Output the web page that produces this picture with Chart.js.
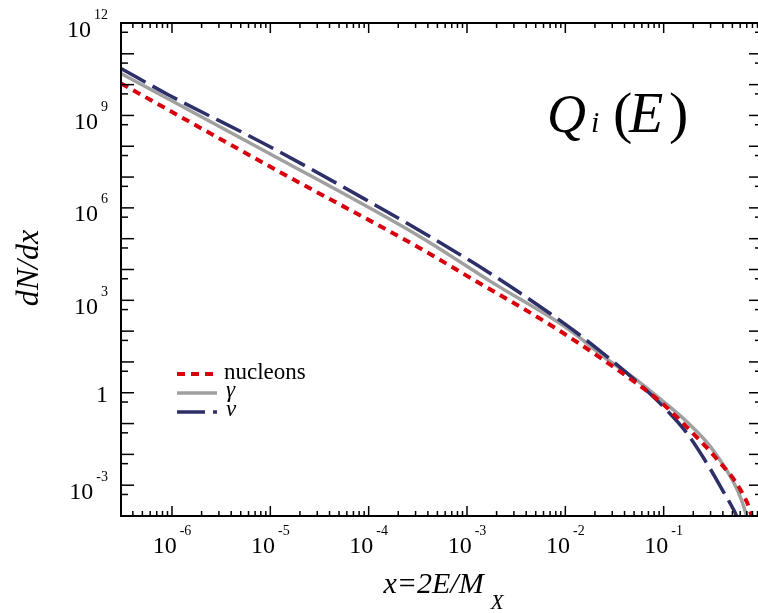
<!DOCTYPE html>
<html>
<head>
<meta charset="utf-8">
<script src="https://cdn.jsdelivr.net/npm/chart.js@4.4.1/dist/chart.umd.min.js"></script>
<style>
  html, body { margin: 0; padding: 0; background: #fff; overflow: hidden; }
  #wrap { width: 770px; height: 613px; }
</style>
</head>
<body>
<div id="wrap"><canvas id="c" width="770" height="613"></canvas></div>
<script>
// Injection spectra dN/dx versus x = 2E/M_X
const xNucleons = [3.03e-7, 1.26e-5, 3.33e-4, 1.0e-3, 7.52e-3, 0.0286, 0.0920, 0.137, 0.350, 0.600, 0.759, 0.832];
const yNucleons = [1.09e10, 1.44e7, 4.89e4, 6.21e3, 139, 8.18, 0.520, 0.158, 6.90e-3, 7.36e-4, 1.43e-4, 3.98e-5];

const xGamma = [3.03e-7, 1.0e-5, 3.33e-4, 1.85e-3, 0.01035, 0.0268, 0.0513, 0.0920, 0.173, 0.297, 0.558, 0.690, 0.759];
const yGamma = [2.29e10, 5.62e7, 1.16e5, 3.61e3, 126, 12.0, 2.82, 0.631, 0.112, 0.0182, 7.36e-4, 1.14e-4, 3.16e-5];

const xNu = [3.03e-7, 9.16e-7, 9.18e-6, 8.77e-5, 4.05e-4, 1.65e-3, 7.00e-3, 0.0138, 0.0268, 0.0513, 0.0957, 0.166, 0.275, 0.429, 0.498, 0.546, 0.589];
const yNu = [3.34e10, 4.71e9, 1.10e8, 2.07e6, 1.25e5, 8.18e3, 374, 77.6, 14.5, 2.54, 0.398, 0.0569, 5.12e-3, 4.47e-4, 1.93e-4, 1.07e-4, 5.0e-5];

const seriesNames = ['nucleons', 'γ', 'ν'];
const xLabelValues = [1e-6, 1e-5, 1e-4, 1e-3, 1e-2, 1e-1, 1];
const yLabelValues = [1e12, 1e9, 1e6, 1e3, 1, 1e-3];

const SERIF = '"Liberation Serif", "Times New Roman", serif';

function toPoints(xs, ys) {
  return xs.map((v, i) => ({ x: v, y: ys[i] }));
}

// "10" with a raised exponent, or a plain "1" for 10^0
function drawPowerLabel(ctx, v, px, baselineOffset, align, py) {
  const exp = Math.round(Math.log10(v));
  const base = exp === 0 ? '1' : '10';
  const sup = exp === 0 ? '' : String(exp);
  ctx.font = '24px ' + SERIF;
  const wb = ctx.measureText(base).width;
  ctx.font = '14px ' + SERIF;
  const ws = sup ? ctx.measureText(sup).width + 3 : 0;
  const total = wb + ws;
  const left = align === 'center' ? px - total / 2 : px - total;
  const baseline = py + (sup ? baselineOffset : baselineOffset - 4);
  ctx.textAlign = 'left';
  ctx.textBaseline = 'alphabetic';
  ctx.font = '24px ' + SERIF;
  ctx.fillText(base, left, baseline);
  if (sup) {
    ctx.font = '14px ' + SERIF;
    ctx.fillText(sup, left + wb + 3, baseline - 18);
  }
}

const framePlugin = {
  id: 'frameAndText',
  afterDatasetsDraw(chart) {
    const { ctx, chartArea: a } = chart;
    const xs = chart.scales.x, ys = chart.scales.y;
    ctx.save();
    ctx.strokeStyle = '#000';
    ctx.fillStyle = '#000';
    ctx.lineWidth = 1.5;
    const seg = (x1, y1, x2, y2) => { ctx.beginPath(); ctx.moveTo(x1, y1); ctx.lineTo(x2, y2); ctx.stroke(); };

    // x ticks, bottom and top, pointing inward
    for (let e = -7; e <= 0; e++) {
      for (let m = 1; m <= 9; m++) {
        const v = m * Math.pow(10, e);
        if (v < xs.min * 0.999 || v > xs.max * 1.001) continue;
        const px = xs.getPixelForValue(v);
        const len = m === 1 ? 10 : 5;
        seg(px, a.bottom, px, a.bottom - len);
        seg(px, a.top, px, a.top + len);
      }
    }
    // y ticks, left and right
    for (let e = -4; e <= 12; e++) {
      for (const m of [1, 5]) {
        const v = m * Math.pow(10, e);
        if (v > ys.max * 1.001) continue;
        const py = ys.getPixelForValue(v);
        const len = m === 1 ? 13 : 7;
        seg(a.left, py, a.left + len, py);
        seg(a.right, py, a.right - len, py);
      }
    }
    ctx.lineWidth = 2;
    ctx.strokeRect(a.left, a.top, a.right - a.left, a.bottom - a.top);

    // tick labels
    xLabelValues.forEach(v => drawPowerLabel(ctx, v, xs.getPixelForValue(v), 37, 'center', a.bottom));
    yLabelValues.forEach(v => drawPowerLabel(ctx, v, a.left - 13, 13.5, 'right', ys.getPixelForValue(v)));

    // axis titles
    ctx.font = 'italic 32px ' + SERIF;
    ctx.textBaseline = 'alphabetic';
    ctx.save();
    ctx.translate(38, 268);
    ctx.rotate(-Math.PI / 2);
    ctx.textAlign = 'center';
    ctx.fillText('dN/dx', 0, 0);
    ctx.restore();

    ctx.textAlign = 'left';
    ctx.font = 'italic 30px ' + SERIF;
    const main = 'x=2E/M';
    const wm = ctx.measureText(main).width;
    ctx.font = 'italic 21px ' + SERIF;
    const wsub = ctx.measureText('X').width;
    const xStart = (a.left + 762) / 2 - (wm + 7 + wsub) / 2 + 2;
    ctx.font = 'italic 30px ' + SERIF;
    ctx.fillText(main, xStart, 593);
    ctx.font = 'italic 21px ' + SERIF;
    ctx.fillText('X', xStart + wm + 7, 609);

    // panel label Q_i(E)
    ctx.font = 'italic 54px ' + SERIF;
    ctx.fillText('Q', 547, 132);
    ctx.font = 'italic 30px ' + SERIF;
    ctx.fillText('i', 591, 132);
    ctx.font = '58px ' + SERIF;
    ctx.fillText('(', 613, 132);
    ctx.font = 'italic 56px ' + SERIF;
    ctx.fillText('E', 629, 132);
    ctx.font = '58px ' + SERIF;
    ctx.fillText(')', 669, 132);

    // legend
    const rows = [374, 393, 412];
    chart.data.datasets.forEach((ds, i) => {
      const y = rows[i];
      ctx.save();
      ctx.strokeStyle = ds.borderColor;
      ctx.lineWidth = ds.borderWidth;
      ctx.setLineDash(ds.borderDash || []);
      seg(177, y, 217, y);
      ctx.restore();
      ctx.fillStyle = '#000';
      ctx.textAlign = 'left';
      if (i === 0) {
        ctx.font = '23px ' + SERIF;
        ctx.fillText(ds.label, 224, y + 5);
      } else {
        ctx.font = 'italic 23px ' + SERIF;
        ctx.fillText(ds.label, 226, y + 4);
      }
    });
    ctx.restore();
  }
};

new Chart(document.getElementById('c'), {
  type: 'line',
  data: {
    datasets: [
      { label: seriesNames[0], data: toPoints(xNucleons, yNucleons), borderColor: '#d8000c', borderWidth: 4, borderDash: [8, 6], order: 0 },
      { label: seriesNames[1], data: toPoints(xGamma, yGamma), borderColor: '#a0a0a0', borderWidth: 3.5, borderDash: [], order: 2 },
      { label: seriesNames[2], data: toPoints(xNu, yNu), borderColor: '#2d2f68', borderWidth: 3.5, borderDash: [28, 8], order: 1 }
    ]
  },
  options: {
    responsive: false,
    animation: false,
    layout: { padding: { left: 121, top: 23, right: 8, bottom: 97 } },
    elements: {
      point: { radius: 0, hoverRadius: 0 },
      line: { cubicInterpolationMode: 'monotone', fill: false }
    },
    scales: {
      x: { type: 'logarithmic', min: 3.03e-7, max: 1, display: false },
      y: { type: 'logarithmic', min: 1e-4, max: 1e12, display: false }
    },
    plugins: { legend: { display: false }, tooltip: { enabled: false } },
    events: []
  },
  plugins: [framePlugin]
});
</script>
</body>
</html>
